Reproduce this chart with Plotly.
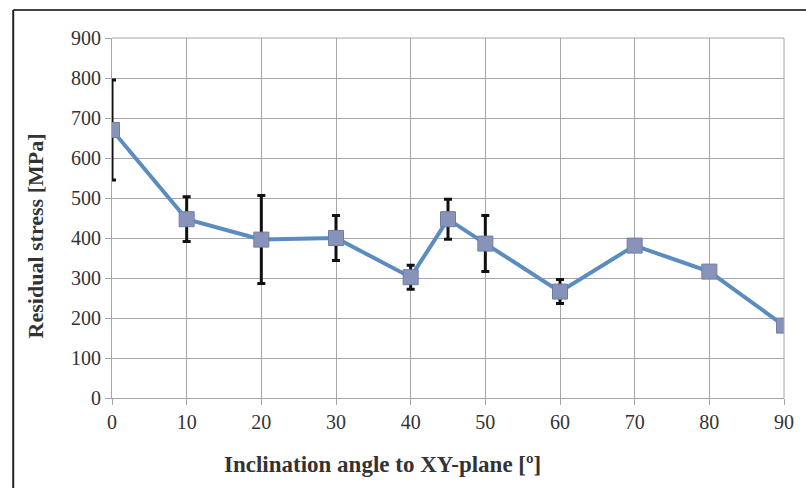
import plotly.graph_objects as go

angles = [0, 10, 20, 30, 40, 45, 50, 60, 70, 80, 90]
stress = [670, 447, 396, 400, 302, 447, 386, 266, 381, 316, 181]
err = [125, 56, 110, 56, 30, 50, 70, 30, 8, 7, 15]
x_ticks = [0, 10, 20, 30, 40, 50, 60, 70, 80, 90]
y_ticks = [0, 100, 200, 300, 400, 500, 600, 700, 800, 900]
x_title = "Inclination angle to XY-plane [º]"
y_title = "Residual stress [MPa]"

fig = go.Figure()
fig.add_trace(go.Scatter(
    x=angles, y=stress, mode="lines+markers",
    line=dict(color="#5b8cc0", width=4),
    marker=dict(symbol="square", size=15, color="#8793b8",
                line=dict(color="#6f7ea8", width=1)),
    error_y=dict(type="data", array=err, visible=True,
                 color="#111111", thickness=3, width=4),
    showlegend=False,
))

serif = "Liberation Serif, DejaVu Serif, serif"
grid = "#a6a6a6"
fig.update_layout(
    width=806, height=488,
    margin=dict(l=112, r=18, t=38, b=90),
    paper_bgcolor="white", plot_bgcolor="white",
    font=dict(family=serif, color="#333333"),
    xaxis=dict(range=[0, 90], tickvals=x_ticks, ticktext=[str(v) for v in x_ticks],
               showgrid=True, gridcolor=grid, gridwidth=1,
               showline=True, linecolor=grid, linewidth=1, mirror=False,
               ticks="outside", tickcolor=grid, ticklen=6,
               tickfont=dict(size=20, family=serif, color="#333333"),
               zeroline=False),
    yaxis=dict(range=[0, 900], tickvals=y_ticks, ticktext=[str(v) for v in y_ticks],
               showgrid=True, gridcolor=grid, gridwidth=1,
               showline=True, linecolor=grid, linewidth=1,
               ticks="outside", tickcolor=grid, ticklen=6,
               tickfont=dict(size=20, family=serif, color="#333333"),
               zeroline=False),
    annotations=[
        dict(text="<b>" + x_title + "</b>", xref="paper", yref="paper",
             x=0.403, y=-0.186, xanchor="center", yanchor="middle", showarrow=False,
             font=dict(size=23, family=serif, color="#333333")),
        dict(text="<b>" + y_title + "</b>", xref="paper", yref="paper",
             x=-0.114, y=0.45, xanchor="center", yanchor="middle", showarrow=False,
             textangle=-90, font=dict(size=22, family=serif, color="#333333")),
    ],
    shapes=[
        dict(type="line", xref="paper", yref="paper", x0=-0.147, x1=1.05,
             y0=1.078, y1=1.078, line=dict(color="#444444", width=2)),
        dict(type="line", xref="paper", yref="paper", x0=-0.147, x1=-0.147,
             y0=1.078, y1=-0.3, line=dict(color="#222222", width=2)),
        dict(type="line", xref="paper", yref="paper", x0=1.0, x1=1.0,
             y0=0, y1=1, line=dict(color=grid, width=1)),
        dict(type="line", xref="paper", yref="paper", x0=0, x1=1.0,
             y0=1, y1=1, line=dict(color=grid, width=1)),
    ],
)
fig.write_html("out.html", config={"displayModeBar": False},
               post_script="document.body.style.margin='0';")
